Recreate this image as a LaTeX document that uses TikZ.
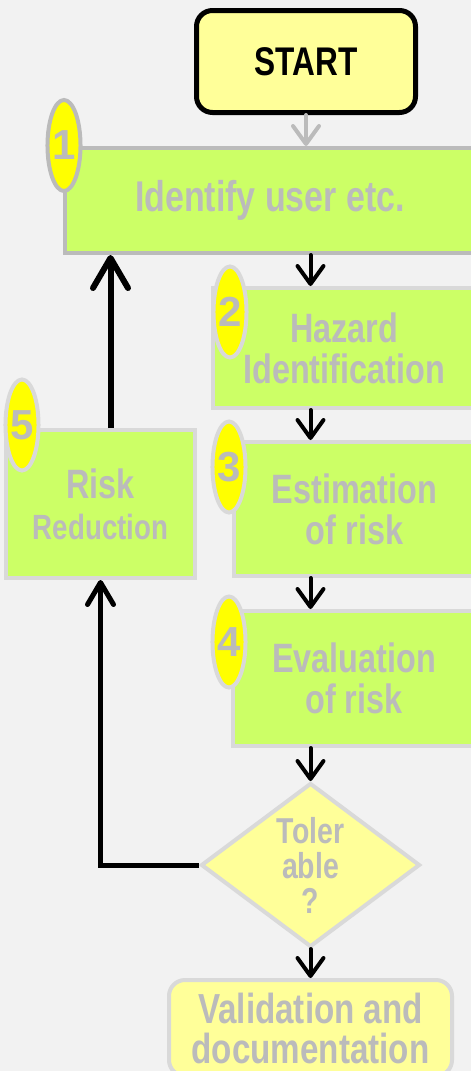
\documentclass[tikz,border=0pt]{standalone}
\usepackage{fontspec}
\setmainfont{Liberation Sans}[FakeStretch=0.79]
\newfontfamily\numfont{Liberation Sans}
\usetikzlibrary{shapes.geometric,arrows.meta}
\definecolor{bggray}{HTML}{F2F2F2}
\definecolor{boxgreen}{HTML}{CCFF66}
\definecolor{paleyellow}{HTML}{FFFF99}
\definecolor{ovalyellow}{HTML}{FFFF00}
\definecolor{txtgray}{HTML}{BBBBBB}
\definecolor{edgegray}{HTML}{D9D9D9}
\tikzset{
	box/.style 2 args={rectangle,draw=edgegray,line width=4pt,fill=boxgreen,text=txtgray,inner sep=0pt,align=center,
		font=\fontsize{41}{41}\selectfont\bfseries,minimum width=#1,minimum height=#2},
	oval/.style={ellipse,draw=edgegray,line width=4pt,fill=ovalyellow,text=txtgray,inner sep=0pt,
		font=\numfont\fontsize{42}{42}\selectfont\bfseries,minimum width=32pt,minimum height=91pt},
	down/.style={-{Straight Barb[round,length=18pt,width=26pt]},line width=4pt,line cap=round}
}
\begin{document}
\begin{tikzpicture}[x=1pt,y=-1pt]
	\useasboundingbox (0,0) rectangle (471,1071);
	\clip (0,0) rectangle (471,1071);
	\fill [bggray] (0,0) rectangle (471,1071);

	\node [rectangle,rounded corners=16pt,draw=black,line width=5pt,fill=paleyellow,minimum width=219pt,minimum height=102pt,
		font=\fontsize{40}{40}\selectfont\bfseries] (start) at (306,61.5) {START};
	\node [box={410pt}{105pt},draw=txtgray,font=\fontsize{43}{41}\selectfont\bfseries] (id) at (270,200.5) {Identify user etc.};
	\node [box={262pt}{120pt}] (hz) at (344,348) {Hazard\\Identification};
	\node [box={241pt}{134pt}] (est) at (354.5,509) {Estimation\\of risk};
	\node [box={242pt}{135pt}] (eva) at (354,678.5) {Evaluation\\of risk};
	\node [box={189pt}{148pt}] (red) at (100.5,504) {Risk\\{\fontsize{35}{36}\selectfont Reduction}};
	\node [diamond,draw=edgegray,line width=4pt,fill=paleyellow,text=txtgray,inner sep=0pt,align=center,
		minimum width=219pt,minimum height=164pt,font=\fontsize{36}{35}\selectfont\bfseries] (tol) at (310.5,865) {Toler\\able\\?};
	\node [rectangle,rounded corners=16pt,draw=edgegray,line width=4pt,fill=paleyellow,text=txtgray,inner sep=0pt,align=center,
		minimum width=283pt,minimum height=96pt,font=\fontsize{42}{40}\selectfont\bfseries] (val) at (310.5,1028) {Validation and\\documentation};

	\node [oval,draw=txtgray] (n1) at (64,145.5) {1};
	\node [oval] (n2) at (230,312) {2};
	\node [oval] (n3) at (229,467) {3};
	\node [oval] (n4) at (229,642) {4};
	\node [oval] (n5) at (22,425) {5};

	\draw [down,txtgray] (start) -- (start |- id.north);
	\draw [down] (id.south -| tol) -- (hz.north -| tol);
	\draw [down] (hz.south -| tol) -- (est.north -| tol);
	\draw [down] (est.south -| tol) -- (eva.north -| tol);
	\draw [down] (eva.south -| tol) -- (tol.north);
	\draw [down] (tol.south) -- (val);
	\draw [-{Straight Barb[round,length=30pt,width=35pt]},line width=6pt] ([xshift=10pt]red.north) -- ([xshift=10pt]red.north |- id.south);
	\draw [-{Straight Barb[round,length=22pt,width=26pt]},line width=5pt] (tol.west) -| (red.south);
\end{tikzpicture}
\end{document}
